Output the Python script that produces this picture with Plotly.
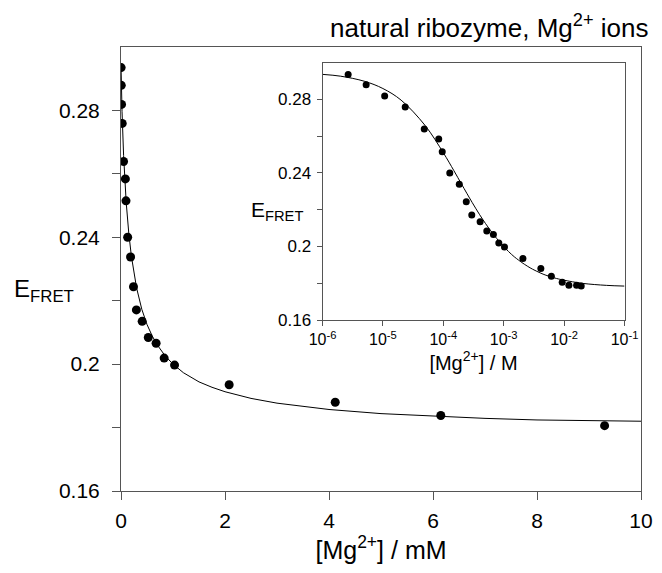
import plotly.graph_objects as go

# Measured data: Mg2+ concentration (mM) and FRET efficiency
conc_mM = [0.00266, 0.00528, 0.0107, 0.0234, 0.0484, 0.084, 0.096, 0.128, 0.184,
           0.24, 0.296, 0.407, 0.525, 0.675, 0.83, 1.03, 2.08, 4.12, 6.15, 9.3,
           12.0, 16.1, 19.2]
e_fret = [0.2935, 0.2879, 0.2819, 0.2759, 0.2639, 0.2584, 0.2515, 0.2400, 0.2338,
          0.2244, 0.2171, 0.2135, 0.2084, 0.2066, 0.2019, 0.1997, 0.1935, 0.1880,
          0.1838, 0.1806, 0.1790, 0.1790, 0.1786]

fit_conc_mM = [0.001, 0.002, 0.005, 0.01, 0.02, 0.05, 0.1, 0.15, 0.2, 0.3, 0.4, 0.5,
               0.6, 0.7, 0.85, 1.0, 1.2, 1.5, 1.75, 2, 2.5, 3, 4, 5, 6, 7, 8, 10,
               20, 50, 100]
fit_e = [0.2936, 0.2926, 0.2898, 0.2859, 0.2796, 0.2658, 0.2510, 0.2412, 0.2340,
         0.2240, 0.2173, 0.2125, 0.2089, 0.2060, 0.2026, 0.2000, 0.1973, 0.1944,
         0.1927, 0.1913, 0.1892, 0.1877, 0.1857, 0.1844, 0.1836, 0.1829, 0.1824,
         0.1817, 0.1800, 0.1789, 0.1785]

conc_M = [c / 1000 for c in conc_mM]
fit_conc_M = [c / 1000 for c in fit_conc_mM]

main_xticks = [0, 2, 4, 6, 8, 10]
main_yticks = [0.16, 0.18, 0.20, 0.22, 0.24, 0.26, 0.28]
main_ylabels = ["0.16", "", "0.2", "", "0.24", "", "0.28"]
inset_xticks = [1e-6, 1e-5, 1e-4, 1e-3, 1e-2, 1e-1]
inset_xlabels = ["10<sup>-6</sup>", "10<sup>-5</sup>", "10<sup>-4</sup>",
                 "10<sup>-3</sup>", "10<sup>-2</sup>", "10<sup>-1</sup>"]

FONT = "Liberation Sans, Arial, sans-serif"
AX = "#555555"

# page offset of the figure inside the browser (default body margin)
OFF = 8
# main plot area in screen pixels
L, R, T, B = 121 - OFF, 641 - OFF, 46.7 - OFF, 491 - OFF
PW, PH = R - L, B - T


def px(x):
    return (x - OFF - L) / PW


def py(y):
    return (B - (y - OFF)) / PH


fig = go.Figure()
fig.add_trace(go.Scatter(x=fit_conc_mM, y=fit_e, mode="lines",
                         line=dict(color="black", width=1), xaxis="x", yaxis="y",
                         showlegend=False, hoverinfo="skip"))
fig.add_trace(go.Scatter(x=conc_mM, y=e_fret, mode="markers",
                         marker=dict(color="black", size=9), xaxis="x", yaxis="y",
                         showlegend=False))
fig.add_trace(go.Scatter(x=fit_conc_M, y=fit_e, mode="lines", line_shape="spline",
                         line=dict(color="black", width=1), xaxis="x2", yaxis="y2",
                         showlegend=False, hoverinfo="skip"))
fig.add_trace(go.Scatter(x=conc_M, y=e_fret, mode="markers",
                         marker=dict(color="black", size=7), xaxis="x2", yaxis="y2",
                         showlegend=False))

fig.update_layout(
    width=662, height=573,
    margin=dict(l=L, r=662 - R, t=T, b=573 - B, autoexpand=False),
    paper_bgcolor="white", plot_bgcolor="white",
    font=dict(family=FONT, color="black"),
    xaxis=dict(domain=[0, 1], range=[0, 10], tickvals=main_xticks, automargin=False,
               showline=True, linecolor=AX, linewidth=1, mirror=True,
               ticks="outside", ticklen=8, tickcolor=AX, showgrid=False, zeroline=False,
               tickfont=dict(size=21), ticklabelstandoff=3,
               title=dict(text="[Mg<sup>2+</sup>] / mM", font=dict(size=25), standoff=6)),
    yaxis=dict(domain=[0, 1], range=[0.16, 0.30], tickvals=main_yticks, automargin=False,
               ticktext=main_ylabels,
               showline=True, linecolor=AX, linewidth=1, mirror=True,
               ticks="outside", ticklen=8, tickcolor=AX, showgrid=False, zeroline=False,
               tickfont=dict(size=21), ticklabelstandoff=8),
    xaxis2=dict(domain=[px(322.5), px(624.5)], anchor="y2", type="log", range=[-6, -1],
                tickvals=inset_xticks, ticktext=inset_xlabels, automargin=False,
                showline=True, linecolor=AX, linewidth=1, mirror=True,
                ticks="outside", ticklen=5, tickcolor=AX, showgrid=False, zeroline=False,
                tickfont=dict(size=16),
                title=dict(text="[Mg<sup>2+</sup>] / M", font=dict(size=20), standoff=8)),
    yaxis2=dict(domain=[py(320), py(62.3)], anchor="x2", range=[0.16, 0.30],
                tickvals=main_yticks, ticktext=main_ylabels, automargin=False,
                showline=True, linecolor=AX, linewidth=1, mirror=True,
                ticks="outside", ticklen=5, tickcolor=AX, showgrid=False, zeroline=False,
                tickfont=dict(size=17), ticklabelstandoff=2),
    annotations=[
        dict(text="natural ribozyme, Mg<sup>2+</sup> ions", x=px(650), y=py(26),
             xref="paper", yref="paper", xanchor="right", yanchor="middle",
             showarrow=False, font=dict(size=26)),
        dict(text="E<sub>FRET</sub>", x=px(12), y=py(290), xref="paper", yref="paper",
             xanchor="left", yanchor="middle", showarrow=False, font=dict(size=24)),
        dict(text="E<sub>FRET</sub>", x=px(249), y=py(211), xref="paper", yref="paper",
             xanchor="left", yanchor="middle", showarrow=False, font=dict(size=21)),
    ],
)

fig.write_html("out.html")
